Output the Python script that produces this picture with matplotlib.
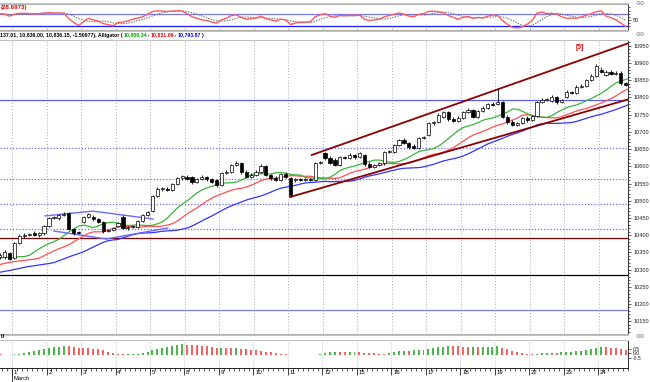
#!/usr/bin/env python3
"""Hourly index chart: oscillator pane, candles with Alligator, AO histogram."""
import matplotlib
matplotlib.use('Agg')
import matplotlib.pyplot as plt
import matplotlib.transforms as mtransforms
from matplotlib.patches import Rectangle
from matplotlib.lines import Line2D
import numpy as np
import pandas as pd

# ---- data (hourly bars, 7 per session) ----
opens = [
    10337, 10337, 10348, 10334, 10377, 10398, 10401, 10406, 10401, 10406,
    10427, 10450, 10450, 10459, 10465, 10418, 10408, 10438, 10453, 10453,
    10447, 10438, 10412, 10414, 10427, 10453, 10421, 10424, 10424, 10441,
    10459, 10470, 10514, 10534, 10534, 10531, 10549, 10566, 10569, 10569,
    10555, 10563, 10569, 10563, 10560, 10546, 10581, 10584, 10604, 10610,
    10584, 10569, 10575, 10584, 10601, 10575, 10566, 10560, 10578, 10566,
    10560, 10563, 10560, 10562, 10560, 10610, 10639, 10624, 10619, 10604,
    10627, 10624, 10633, 10627, 10633, 10607, 10598, 10604, 10610, 10642,
    10642, 10662, 10677, 10668, 10659, 10653, 10683, 10691, 10726, 10729,
    10744, 10758, 10738, 10732, 10741, 10758, 10764, 10744, 10761, 10770,
    10781, 10781, 10787, 10744, 10729, 10720, 10726, 10741, 10735, 10747,
    10787, 10793, 10790, 10802, 10787, 10802, 10816, 10813, 10831, 10834,
    10851, 10863, 10880, 10866, 10874, 10869, 10872, 10842]
closes = [
    10342, 10351, 10331, 10377, 10398, 10401, 10403, 10401, 10406, 10427,
    10450, 10452, 10459, 10462, 10418, 10406, 10406, 10453, 10462, 10447,
    10438, 10412, 10414, 10421, 10435, 10421, 10424, 10426, 10441, 10459,
    10467, 10514, 10534, 10536, 10531, 10549, 10566, 10572, 10563, 10555,
    10563, 10569, 10563, 10555, 10546, 10581, 10584, 10604, 10610, 10584,
    10569, 10575, 10584, 10601, 10575, 10566, 10560, 10578, 10569, 10517,
    10563, 10560, 10562, 10560, 10610, 10612, 10624, 10610, 10604, 10627,
    10624, 10633, 10627, 10639, 10607, 10598, 10604, 10610, 10642, 10644,
    10662, 10677, 10668, 10656, 10653, 10683, 10685, 10726, 10729, 10749,
    10758, 10738, 10732, 10741, 10758, 10764, 10744, 10761, 10770, 10781,
    10778, 10787, 10744, 10729, 10720, 10726, 10741, 10735, 10747, 10787,
    10793, 10795, 10802, 10787, 10793, 10816, 10813, 10831, 10834, 10851,
    10863, 10892, 10874, 10874, 10869, 10872, 10842, 10836]
upper_wick = [
    5, 6, 4, 3, 5, 4, 3, 5, 4, 3,
    4, 5, 3, 4, 2, 3, 5, 4, 3, 6,
    3, 4, 5, 3, 4, 6, 4, 3, 4, 3,
    3, 4, 5, 4, 5, 3, 4, 3, 6, 3,
    4, 5, 4, 3, 4, 3, 4, 4, 6, 3,
    4, 5, 4, 5, 3, 4, 5, 4, 5, 3,
    4, 3, 4, 5, 3, 4, 4, 5, 6, 3,
    4, 5, 4, 3, 4, 5, 3, 4, 3, 4,
    4, 3, 5, 4, 5, 3, 4, 4, 3, 5,
    3, 4, 5, 4, 3, 5, 4, 3, 5, 4,
    5, 41, 3, 4, 5, 4, 3, 4, 3, 4,
    5, 4, 6, 3, 4, 5, 4, 5, 6, 4,
    5, 6, 9, 6, 5, 4, 5, 3]
lower_wick = [
    6, 5, 4, 4, 3, 5, 4, 3, 5, 4,
    3, 4, 5, 3, 4, 5, 3, 4, 3, 5,
    4, 5, 4, 3, 4, 4, 5, 3, 4, 3,
    4, 3, 4, 5, 4, 3, 4, 5, 4, 5,
    3, 4, 5, 4, 5, 3, 4, 3, 4, 5,
    4, 3, 4, 3, 4, 5, 4, 3, 4, 6,
    5, 4, 3, 4, 3, 4, 5, 4, 3, 4,
    3, 4, 5, 4, 5, 4, 3, 4, 5, 3,
    4, 3, 4, 5, 3, 4, 3, 4, 5, 3,
    4, 5, 4, 3, 4, 3, 4, 5, 3, 4,
    3, 4, 5, 6, 4, 3, 4, 5, 3, 4,
    3, 4, 3, 5, 4, 3, 4, 3, 4, 3,
    4, 3, 4, 5, 4, 3, 5, 3]
# bars before the visible window, only used to start the Alligator lines
warmup_median = [10320, 10325, 10330, 10335, 10340, 10345, 10340, 10335]
jaw_seed, teeth_seed, lips_seed = 10290, 10305, 10330

osc = [
    70, 68, 62, 68, 71, 71, 70, 69, 70, 72,
    73, 72, 72, 71, 55, 42, 32, 44, 55, 50,
    46, 38, 35, 31, 42, 43, 47, 52, 56, 60,
    68, 77, 79, 78, 77, 78, 79, 78, 70, 60,
    55, 50, 48, 43, 40, 50, 56, 64, 66, 58,
    52, 54, 56, 62, 54, 50, 46, 52, 50, 35,
    40, 42, 43, 44, 60, 66, 70, 62, 58, 64,
    63, 65, 64, 66, 52, 48, 50, 52, 60, 64,
    68, 72, 68, 62, 60, 68, 70, 77, 78, 76,
    73, 64, 58, 52, 58, 61, 55, 58, 56, 62,
    66, 64, 48, 36, 26, 24, 28, 36, 48, 72,
    75, 70, 71, 68, 60, 55, 56, 55, 60, 65,
    70, 76, 79, 62, 57, 50, 40, 28.7]
osc_levels = [70, 30]

ao = [
    2, 1.5, 1, 3, 4, 6, 10, 13, 16, 19,
    22, 23, 25, 27, 26, 25, 22, 21, 20, 19,
    18, 15, 10, 5, 4, 3, 3.5, 4, 4.5, 7,
    10, 15, 18, 21, 25, 28, 30, 32, 31, 30,
    29, 28, 27, 25, 22, 22.5, 21, 20, 20.5, 18,
    17, 16, 15, 13, 10, 8, 6, 4, 2.5, 0.3,
    0.25, 0.2, 0.15, 0.8, 1.5, 3, 6, 8, 10, 9.5,
    9, 9.5, 10, 9, 7, 6, 5, 4, 3.5, 5,
    9, 12, 13, 12.5, 14, 15, 16, 18, 22, 24,
    25, 27, 26.5, 26, 25, 24.5, 25, 24, 24.5, 25,
    25.5, 26, 20, 17, 13, 10, 7, 4, 2, 3,
    5, 7, 6.5, 6, 8, 9, 10, 11, 13, 15,
    18, 22, 25, 24, 22, 20, 18, 15]
ao_prev = 2.5

day_labels = ['1', '2', '3', '4', '5', '8', '9', '10', '11', '12',
              '15', '16', '17', '18', '19', '22', '23', '24']
bars_per_day = 7
first_day_bar = 3

level_prices = [10793, 10392, 10284, 10183]
level_colors = ['#5a5aff', '#800000', '#000000', '#7c7cff']
dotted_levels = [10653, 10563, 10491, 10418]

channel_up_x, channel_up_y = [63.3, 127.6], [10633, 10958]
channel_lo_x, channel_lo_y = [58.9, 127.6], [10511, 10795]
tri_up_x, tri_up_y = [9.2, 18.9, 31.1], [10456, 10470, 10447]
tri_lo_x, tri_lo_y = [11.0, 21.6, 34.1], [10412, 10389, 10421]

price_ticks = list(range(10150, 10951, 50))
ao_ticks = [18, 6, -7.5]
ao_tick_labels = ['0.5', '0.0', '-0.5']

# ---- derived series ----
n = len(closes)
x = np.arange(n)
o = np.array(opens, float)
c = np.array(closes, float)
hi = np.maximum(o, c) + np.array(upper_wick)
lo = np.minimum(o, c) - np.array(lower_wick)
median = np.concatenate([warmup_median, (hi + lo) / 2])


def smma(vals, period, seed):
    out, s = [], seed
    for v in vals:
        s = (s * (period - 1) + v) / period
        out.append(s)
    return np.array(out)


jaw = smma(median, 13, jaw_seed)[:n + 1]        # shifted 8 bars
teeth = smma(median, 8, teeth_seed)[3:n + 4]    # shifted 5 bars
lips = smma(median, 5, lips_seed)[5:n + 6]      # shifted 3 bars
xl = np.arange(n + 1)

signal = pd.Series(osc).rolling(5, min_periods=1).mean()
ao_arr = np.array(ao)
ao_rising = np.diff(np.concatenate([[ao_prev], ao_arr])) > 0
ao_cols = np.where(ao_rising, '#4cb84c', '#f26464')

day_bounds = first_day_bar - 0.5 + bars_per_day * np.arange(len(day_labels))

# ---- layout (pixel boxes) ----
W, H = 650, 382
fig = plt.figure(figsize=(W / 100, H / 100), dpi=100)
SMALL = ['Liberation Sans', 'DejaVu Sans']


def box(x0, y0, x1, y1):
    return [x0 / W, 1 - y1 / H, (x1 - x0) / W, (y1 - y0) / H]


ax_top = fig.add_axes(box(0, 4, 628, 30))
ax = fig.add_axes(box(0, 40, 628, 334))
ax_ao = fig.add_axes(box(0, 340, 628, 368))
xlim = (0.06, 127.45)

for a in (ax_top, ax, ax_ao):
    a.set_xlim(*xlim)
    a.spines['left'].set_visible(False)
    a.spines['top'].set_color('#b0b0b0')
    a.spines['bottom'].set_color('#b0b0b0')
    a.spines['right'].set_color('#303030')
    for s in a.spines.values():
        s.set_linewidth(0.7)
    a.yaxis.tick_right()
    a.tick_params(axis='y', which='both', labelsize=4.1, pad=1.2, width=0.5,
                  colors='#202020')
    a.tick_params(axis='y', which='major', length=2.5)
    a.tick_params(axis='y', which='minor', length=1.2)

# ---- top oscillator pane ----
ax_top.set_ylim(17.7, 100.8)
ax_top.axhline(osc_levels[0], color='#7878ff', lw=0.9)
ax_top.axhline(osc_levels[1], color='#1a1aff', lw=0.9)
ax_top.plot(x, signal, color='#707070', lw=0.8, ls=(0, (1.2, 1.2)))
ax_top.plot(x, osc, color='#ff5a5a', lw=1.0)
ax_top.set_yticks([50])
ax_top.set_yticklabels(['50'], family=SMALL)
ax_top.set_yticks([30, 40, 60, 70, 80, 90], minor=True)
ax_top.set_xticks(day_bounds)
ax_top.tick_params(axis='x', direction='in', length=1.5, width=0.5,
                   labelbottom=False, colors='#909090')
fig.text(1 / W, 1 - 7.5 / H, '(28.6973)', color='#e00000', fontsize=4.4,
         fontweight='bold', family=SMALL, va='center')

# ---- main price pane ----
ax.set_ylim(10113, 10967)
for b in day_bounds:
    ax.axvline(b, color='#a8a8a8', lw=0.7, ls=(0, (1, 2)), zorder=1)
for p in dotted_levels:
    ax.axhline(p, color='#6a6aff', lw=0.9, ls=(0, (1, 1.5)), zorder=1)
for p, col in zip(level_prices, level_colors):
    ax.axhline(p, color=col, lw=0.9, zorder=1)

ax.plot(xl, jaw, color='#3434ff', lw=0.9, zorder=2)
ax.plot(xl, teeth, color='#ff5050', lw=0.9, zorder=2)
ax.plot(xl, lips, color='#3cb43c', lw=0.9, zorder=2)

ax.plot(channel_up_x, channel_up_y, color='#8b0000', lw=1.3, zorder=3)
ax.plot(channel_lo_x, channel_lo_y, color='#8b0000', lw=1.3, zorder=3)
ax.plot(tri_up_x, tri_up_y, color='#6a6aff', lw=1.0, zorder=3)
ax.plot(tri_lo_x, tri_lo_y, color='#6a6aff', lw=1.0, zorder=3)

ax.vlines(x, lo, hi, color='black', lw=0.6, zorder=4)
for i in range(n):
    body_lo = min(o[i], c[i])
    body_h = max(abs(c[i] - o[i]), 1.2)
    fc = 'white' if c[i] >= o[i] else 'black'
    ax.add_patch(Rectangle((x[i] - 0.32, body_lo), 0.64, body_h, facecolor=fc,
                           edgecolor='black', lw=0.5, zorder=5))

ax.set_xticks([])
ax.set_yticks(price_ticks)
ax.set_yticklabels([str(p) for p in price_ticks], family=SMALL)
ax.set_yticks(np.arange(10120, 10961, 10), minor=True)
ax.text(117.7, 10944, '[5]', color='#e00000', fontsize=5, fontweight='bold',
        family=SMALL, ha='center', va='center')

# header with colored Alligator values
renderer = fig.canvas.get_renderer()
segments = [('137.01, 10,836.00, 10,836.15, -1.50977), Alligator (', '#000000', 1.0),
            ('10,850.34', '#00a000', 0), (',', '#000000', 1.5),
            ('10,831.06', '#e00000', 0), (',', '#000000', 1.5),
            ('10,793.87', '#0000e0', 0), (')', '#000000', 0)]
xpos = 0.5
for txt, col, gap in segments:
    t = fig.text(xpos / W, 1 - 35 / H, txt, color=col, fontsize=3.8,
                 fontweight='bold', family=SMALL, va='center')
    xpos = t.get_window_extent(renderer).x1 + gap

for yy in (3.5, 35, 337):
    fig.text(640 / W, 1 - yy / H, '\u2296\u2296', color='#808080', fontsize=4,
             ha='center', va='center')

# ---- AO pane ----
ax_ao.set_ylim(-39, 45)
for b in day_bounds:
    ax_ao.axvline(b, color='#b0b0b0', lw=0.6, ls=(0, (1, 2)), zorder=1)
ax_ao.bar(x, ao_arr, width=0.4, color=ao_cols, zorder=2)
ax_ao.set_yticks(ao_ticks)
ax_ao.set_yticklabels(ao_tick_labels, family=SMALL, fontsize=3.6)
ax_ao.spines['bottom'].set_color('#202020')
ax_ao.set_xticks(day_bounds)
ax_ao.set_xticks(np.arange(n) + 0.5, minor=True)
ax_ao.tick_params(axis='x', which='major', direction='out', length=5, width=0.6,
                  labelbottom=False, colors='#202020')
ax_ao.tick_params(axis='x', which='minor', direction='out', length=2, width=0.5,
                  colors='#202020')
fig.text(1 / W, 1 - 337 / H, '0', fontsize=4.2, fontweight='bold', family=SMALL,
         va='center')

blend = mtransforms.blended_transform_factory(ax_ao.transData, fig.transFigure)
for b, lab in zip(day_bounds, day_labels):
    ax_ao.text(b + 0.35, 1 - 372 / H, lab, transform=blend, fontsize=4.4,
               family=SMALL, va='center', ha='left', clip_on=False)
ax_ao.text(day_bounds[0] + 0.35, 1 - 379 / H, 'March', transform=blend,
           fontsize=4.2, family=SMALL, va='center', ha='left', clip_on=False)
fig.add_artist(Line2D([day_bounds[0], day_bounds[0]], [1 - 368 / H, 1 - 382 / H],
                      transform=blend, color='#202020', lw=0.6))

# frame lines between panes
for yy in (3, 31, 39.5, 334.5, 339.5):
    fig.add_artist(Line2D([0, 628 / W], [1 - yy / H, 1 - yy / H], color='#c0c0c0', lw=0.7))

fig.savefig('out.png', dpi=100)
